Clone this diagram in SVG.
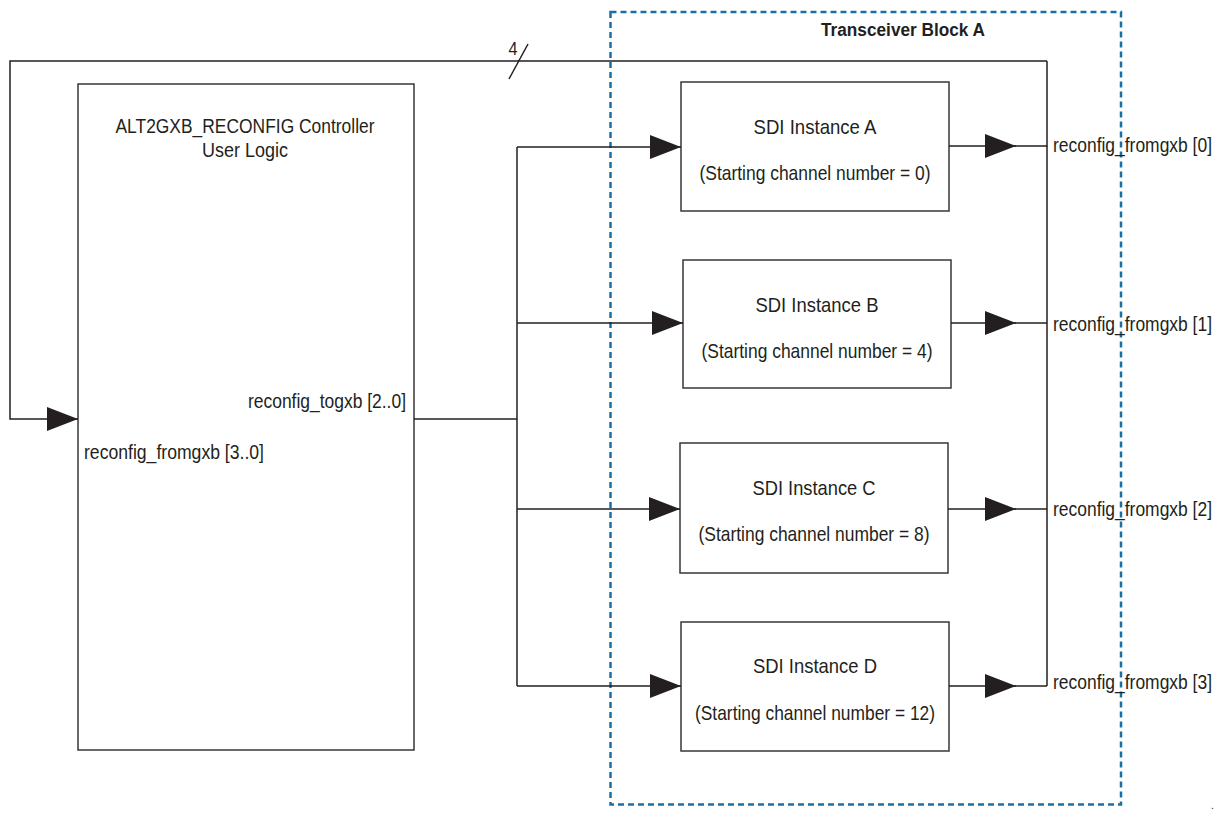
<svg xmlns="http://www.w3.org/2000/svg" width="1225" height="823" viewBox="0 0 1225 823">
<style>
text{font-family:"Liberation Sans",Arial,sans-serif;font-size:20px;fill:#231f20}
.s{font-size:21px}
.box{fill:#fff;stroke:#3a3637;stroke-width:1.5}
.ln{fill:none;stroke:#231f20;stroke-width:1.5}
.c{text-anchor:middle}
</style>
<defs>
<marker id="ah" markerUnits="userSpaceOnUse" markerWidth="34" markerHeight="28" refX="31" refY="12" orient="auto"><path d="M0,0 L31,12 L0,24 Z" fill="#231f20"/></marker>
</defs>
<rect x="610.5" y="12" width="510.5" height="792.5" fill="none" stroke="#1a6fa5" stroke-width="2.5" stroke-dasharray="6,4"/>
<text x="903" y="36" class="c" style="font-weight:bold;font-size:18px" textLength="164" lengthAdjust="spacingAndGlyphs">Transceiver Block A</text>
<g id="controller">
<rect class="box" x="78" y="84" width="336" height="666"/>
<text x="245" y="133" class="c" textLength="259" lengthAdjust="spacingAndGlyphs">ALT2GXB_RECONFIG Controller</text>
<text x="245" y="157" class="c" textLength="86" lengthAdjust="spacingAndGlyphs">User Logic</text>
<text x="406" y="408" text-anchor="end" textLength="158" lengthAdjust="spacingAndGlyphs">reconfig_togxb [2..0]</text>
<text x="84" y="459" textLength="180" lengthAdjust="spacingAndGlyphs">reconfig_fromgxb [3..0]</text>
</g>
<g id="sdiA">
<rect class="box" x="681" y="82" width="268" height="129"/>
<text x="815" y="134" class="c s" textLength="123" lengthAdjust="spacingAndGlyphs">SDI Instance A</text>
<text x="815" y="180" class="c s" textLength="231" lengthAdjust="spacingAndGlyphs">(Starting channel number = 0)</text>
</g>
<g id="sdiB">
<rect class="box" x="683" y="260" width="268" height="128"/>
<text x="817" y="312" class="c s" textLength="123" lengthAdjust="spacingAndGlyphs">SDI Instance B</text>
<text x="817" y="358" class="c s" textLength="231" lengthAdjust="spacingAndGlyphs">(Starting channel number = 4)</text>
</g>
<g id="sdiC">
<rect class="box" x="680" y="443" width="268" height="130"/>
<text x="814" y="495" class="c s" textLength="123" lengthAdjust="spacingAndGlyphs">SDI Instance C</text>
<text x="814" y="541" class="c s" textLength="231" lengthAdjust="spacingAndGlyphs">(Starting channel number = 8)</text>
</g>
<g id="sdiD">
<rect class="box" x="681" y="622" width="268" height="129"/>
<text x="815" y="673" class="c s" textLength="124" lengthAdjust="spacingAndGlyphs">SDI Instance D</text>
<text x="815" y="720" class="c s" textLength="240" lengthAdjust="spacingAndGlyphs">(Starting channel number = 12)</text>
</g>
<g id="connectors">
<polyline class="ln" points="1047,61 10,61 10,419 78,419" marker-end="url(#ah)"/>
<line class="ln" x1="509" y1="79" x2="528" y2="44"/>
<text x="513" y="55" class="c" style="font-size:18px" textLength="9" lengthAdjust="spacingAndGlyphs">4</text>
<line class="ln" x1="414" y1="419" x2="517" y2="419"/>
<line class="ln" x1="517" y1="147" x2="517" y2="686"/>
<line class="ln" x1="517" y1="147" x2="681" y2="147" marker-end="url(#ah)"/>
<line class="ln" x1="517" y1="323" x2="683" y2="323" marker-end="url(#ah)"/>
<line class="ln" x1="517" y1="509" x2="680" y2="509" marker-end="url(#ah)"/>
<line class="ln" x1="517" y1="686" x2="681" y2="686" marker-end="url(#ah)"/>
<line class="ln" x1="949" y1="146" x2="1016" y2="146" marker-end="url(#ah)"/>
<line class="ln" x1="951" y1="323" x2="1016" y2="323" marker-end="url(#ah)"/>
<line class="ln" x1="948" y1="509" x2="1016" y2="509" marker-end="url(#ah)"/>
<line class="ln" x1="949" y1="686" x2="1016" y2="686" marker-end="url(#ah)"/>
<polyline class="ln" points="1015,146 1047,146 1047,61"/>
<line class="ln" x1="1015" y1="323" x2="1047" y2="323"/>
<line class="ln" x1="1015" y1="509" x2="1047" y2="509"/>
<line class="ln" x1="1015" y1="686" x2="1047" y2="686"/>
<line class="ln" x1="1047" y1="146" x2="1047" y2="686"/>
</g>
<text x="1053" y="152" textLength="159" lengthAdjust="spacingAndGlyphs">reconfig_fromgxb [0]</text>
<text x="1053" y="331" textLength="159" lengthAdjust="spacingAndGlyphs">reconfig_fromgxb [1]</text>
<text x="1053" y="516" textLength="159" lengthAdjust="spacingAndGlyphs">reconfig_fromgxb [2]</text>
<text x="1053" y="689" textLength="159" lengthAdjust="spacingAndGlyphs">reconfig_fromgxb [3]</text>
<text x="1211" y="809" style="font-size:10px">.</text>
</svg>
